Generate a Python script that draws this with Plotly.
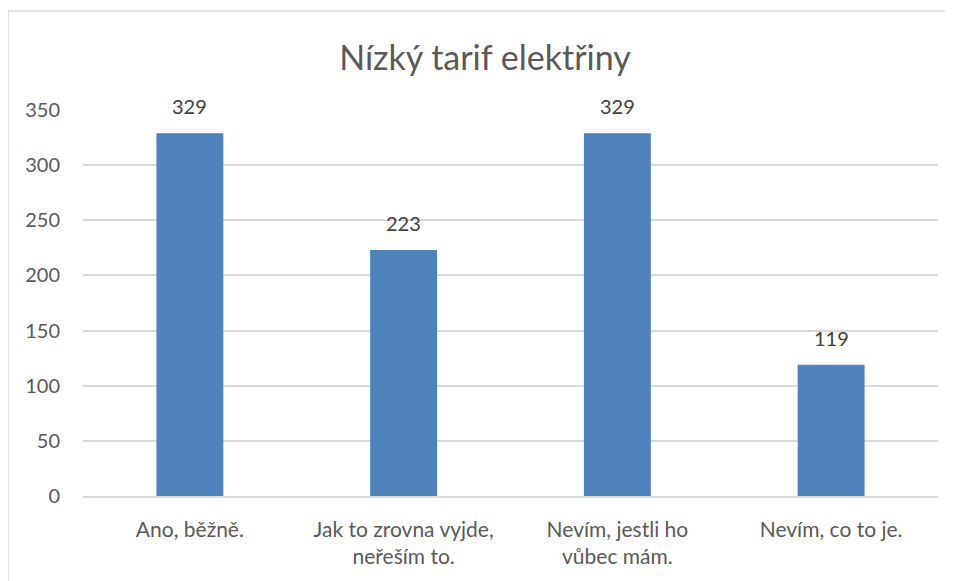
import plotly.graph_objects as go

categories = ["Ano, běžně.", "Jak to zrovna vyjde,<br>neřeším to.", "Nevím, jestli ho<br>vůbec mám.", "Nevím, co to je."]
values = [329, 223, 329, 119]
y_ticks = [0, 50, 100, 150, 200, 250, 300, 350]
title_text = "Nízký tarif elektřiny"

FONT = "Lato"
TXT = "#595959"

OFF = 8  # page body margin
W, H = 953 - OFF, 581 - OFF
L, R, T, B = 83 - OFF, 15, 110 - OFF, 85
pw, ph = W - L - R, H - T - B

fig = go.Figure()
fig.add_trace(go.Bar(
    x=categories, y=values,
    marker=dict(color="#4F81BD", line=dict(width=0)),
    width=0.313,
    hoverinfo="x+y",
))

for c, v in zip(categories, values):
    fig.add_annotation(x=c, y=v, text=str(v), showarrow=False,
                       yanchor="bottom", yshift=13,
                       font=dict(family=FONT, size=20, color="#404040"))

fig.add_shape(type="rect", xref="paper", yref="paper",
              x0=(8 - OFF - L) / pw, x1=(W + 20 - L) / pw,
              y0=-(B + 20) / ph, y1=1 + (T - (11 - OFF)) / ph,
              line=dict(color="#d9d9d9", width=1.5), fillcolor="rgba(0,0,0,0)", layer="below")

fig.update_layout(
    width=W, height=H,
    margin=dict(l=L, r=R, t=T, b=B),
    paper_bgcolor="white", plot_bgcolor="white",
    showlegend=False,
    title=dict(text=title_text, x=(485 - OFF - L) / pw, xref="paper", xanchor="center",
               y=1 - (58 - OFF) / H, yanchor="middle",
               font=dict(family=FONT, size=34, color=TXT)),
    xaxis=dict(showgrid=False, showline=True, linecolor="#d9d9d9", linewidth=1.5,
               ticks="", ticklabelstandoff=14,
               tickfont=dict(family=FONT, size=21, color=TXT)),
    yaxis=dict(range=[0, 350], tickvals=y_ticks, showgrid=True, gridcolor="#d9d9d9",
               gridwidth=1.5, zeroline=False, showline=False, ticks="",
               ticklabelstandoff=22,
               tickfont=dict(family=FONT, size=20, color=TXT)),
)

fig.write_html("out.html")
